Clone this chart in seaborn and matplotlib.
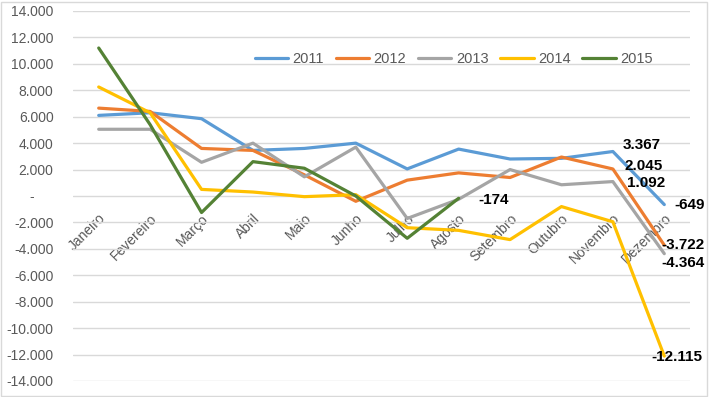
import numpy as np
import pandas as pd
import seaborn as sns
import matplotlib.pyplot as plt
from matplotlib.ticker import FuncFormatter
from matplotlib.patches import Rectangle

sns.set_theme(style="white")
plt.rcParams['font.family'] = ['Liberation Sans', 'DejaVu Sans']

meses = ['Janeiro', 'Fevereiro', 'Março', 'Abril', 'Maio', 'Junho',
         'Julho', 'Agosto', 'Setembro', 'Outubro', 'Novembro', 'Dezembro']
anos = ['2011', '2012', '2013', '2014', '2015']

v2011 = [6100, 6300, 5850, 3450, 3600, 4000, 2050, 3550, 2800, 2850, 3367, -649]
v2012 = [6650, 6400, 3600, 3450, 1600, -400, 1200, 1750, 1400, 2950, 2045, -3722]
v2013 = [5050, 5050, 2550, 4000, 1450, 3700, -1700, -250, 2000, 850, 1092, -4364]
v2014 = [8250, 6300, 500, 300, -50, 100, -2400, -2600, -3300, -800, -1950, -12115]
v2015 = [11200, 5400, -1250, 2600, 2100, 0, -3200, -174, np.nan, np.nan, np.nan, np.nan]

cores = ['#5B9BD5', '#ED7D31', '#A5A5A5', '#FFC000', '#548235']

df = pd.DataFrame({'mes': list(range(12)) * 5,
                   'ano': np.repeat(anos, 12),
                   'valor': v2011 + v2012 + v2013 + v2014 + v2015})
df = df.dropna()

fig = plt.figure(figsize=(7.09, 3.97), dpi=100)
ax = fig.add_axes([73/709, 1-381/397, 617/709, 370/397])

sns.lineplot(df, x='mes', y='valor', hue='ano', palette=cores,
             linewidth=2.3, sort=False, ax=ax)

ax.set_xlim(-0.5, 11.5)
ax.set_ylim(-14000, 14000)
ax.set_yticks(range(-14000, 14001, 2000))

def fmt(v, pos):
    if v == 0:
        return '-     '
    return f'{v:,.0f}'.replace(',', '.')
ax.yaxis.set_major_formatter(FuncFormatter(fmt))
ax.grid(axis='y', color='#D9D9D9', linewidth=1)
ax.set_axisbelow(True)
for s in ax.spines.values():
    s.set_visible(False)
ax.spines['bottom'].set_position(('data', 0))

ax.set_xticks(range(12))
ax.set_xticklabels(meses, rotation=45, ha='right', rotation_mode='anchor')
ax.tick_params(axis='x', length=0, pad=11, labelsize=10, colors='#595959')
ax.tick_params(axis='y', length=0, pad=14, labelsize=10, colors='#595959')
ax.set_xlabel('')
ax.set_ylabel('')

ax.legend(ncol=5, frameon=False, loc='center', bbox_to_anchor=(0.617, 0.87),
          handlelength=2.3, columnspacing=0.8, handletextpad=0.3,
          fontsize=10.5, labelcolor='#595959')

# rotulos de dados
rotulos = [
    (10, 3367, '3.367', (10, 7)),
    (10, 2045, '2.045', (12, 3)),
    (10, 1092, '1.092', (14, -1)),
    (7, -174, '-174', (20, -2)),
    (11, -649, '-649', (10, 0)),
    (11, -3722, '-3.722', (-3, 0)),
    (11, -4364, '-4.364', (-3, -9)),
    (11, -12115, '-12.115', (-13, -1)),
]
for x, y, txt, off in rotulos:
    ax.annotate(txt, (x, y), xytext=off, textcoords='offset pixels',
                ha='left', va='center', fontsize=11, fontweight='bold',
                color='black', annotation_clip=False)

fig.patches.append(Rectangle((0.002, 0.003), 0.995, 0.993, transform=fig.transFigure,
                             fill=False, edgecolor='#D9D9D9', linewidth=1))

plt.savefig('out.png', dpi=100)
plt.close()
